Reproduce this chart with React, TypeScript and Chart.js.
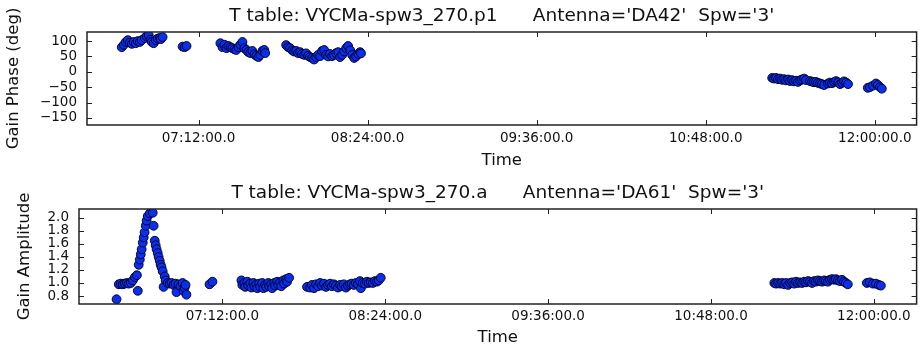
import { useEffect, useRef } from "react";
import { Chart, registerables } from "chart.js";

Chart.register(...registerables);

// Solution times in minutes after midnight, with the solved values.
const phaseTimes = [
  399.3, 400.2, 401.0, 401.9, 402.7, 403.6, 404.4, 405.3, 406.1, 407.0, 407.8, 409.1, 409.9, 410.8, 411.6, 412.1, 412.9, 413.8, 414.6, 415.5, 415.9, 416.7,
  425.2, 426.1, 426.9,
  441.3, 442.2, 443.0, 443.9, 444.7, 445.6, 446.4, 447.3, 448.1, 449.0, 449.8, 450.7, 451.5, 452.4, 453.2, 454.1, 454.9, 455.8, 456.6, 457.5, 458.3, 459.2, 460.0, 460.4,
  469.3, 470.2, 471.0, 471.9, 472.7, 473.6, 474.4, 475.3, 476.1, 477.0, 477.8, 478.7, 479.5, 480.4, 481.2, 482.1, 482.9, 483.8, 484.6, 485.5, 486.3, 487.2, 488.0, 488.9, 489.7, 490.6, 491.5, 492.3, 493.2, 494.0, 494.9, 495.7, 496.6, 497.4, 498.3, 499.1, 500.0, 500.8, 501.2,
  676.3, 677.1, 678.0, 678.8, 679.7, 680.5, 681.4, 682.2, 683.1, 683.9, 684.8, 685.6, 686.5, 687.3, 688.2, 689.0, 689.9, 690.7, 692.4, 693.3, 694.1, 695.0, 695.8, 696.7, 697.5, 698.4, 700.1, 700.9, 701.8, 702.7, 703.5, 704.4, 705.2, 706.1, 706.9, 707.8, 708.6,
  717.0, 717.9, 719.2, 720.5, 721.3, 722.2, 723.0,
];
const phaseValues = [
  80, 88, 97, 103, 95, 91, 97, 93, 100, 97, 103, 110, 116, 119, 104, 97, 93, 103, 108, 110, 106, 113,
  82, 80, 84,
  93, 80, 88, 77, 84, 80, 77, 73, 71, 80, 88, 97, 77, 71, 64, 61, 68, 57, 52, 48, 55, 68, 71, 61,
  87, 80, 77, 70, 66, 68, 61, 64, 58, 55, 60, 52, 48, 45, 40, 48, 55, 51, 68, 71, 55, 50, 58, 51, 55, 61, 64, 48, 55, 66, 77, 84, 70, 55, 45, 50, 58, 64, 60,
  -20, -22, -20, -24, -22, -26, -24, -28, -25, -30, -27, -31, -29, -33, -28, -25, -22, -27, -30, -32, -34, -33, -36, -38, -40, -43, -38, -35, -37, -33, -30, -34, -40, -36, -31, -35, -40,
  -52, -50, -45, -38, -43, -50, -55,
];

const ampTimes = [
  385.2, 386.2, 387.1, 388.0, 388.8, 389.7, 390.6, 391.5, 392.4, 393.3, 394.2, 394.6, 395.0, 395.5, 395.9, 396.3, 396.8, 397.2, 397.6, 398.1,
  398.5, 399.0, 399.9, 401.2, 401.6, 402.1, 402.5, 402.9, 403.4, 403.8, 404.3, 404.7, 405.1, 405.6, 406.0, 406.5, 406.9, 407.8, 408.7, 409.5,
  410.4, 411.3, 411.7, 412.6, 413.5, 414.4, 414.8, 415.3, 415.7, 416.1,
  426.3, 427.6,
  440.4, 440.8, 441.7, 442.1, 443.0, 443.4, 444.3, 444.8, 445.7, 446.1, 447.0, 447.4, 448.3, 448.7, 449.6, 450.1, 450.9, 451.4, 452.3, 452.7, 453.6, 454.0, 454.9, 455.3, 456.2, 456.7, 457.5, 458.0, 458.9, 459.3, 460.2, 460.6, 461.5,
  469.4, 470.8, 471.6, 472.5, 473.4, 474.3, 475.2, 476.0, 476.9, 477.8, 478.7, 479.6, 480.4, 481.3, 482.2, 483.1, 484.0, 484.8, 485.7, 486.6, 487.5, 488.4, 489.2, 490.1, 491.0, 491.9, 492.8, 493.2, 494.0, 495.0, 495.9, 496.7, 497.6, 498.5, 499.4, 500.3, 501.1, 502.0,
  676.0, 676.8, 677.7, 678.6, 679.5, 680.4, 681.2, 682.1, 683.0, 683.9, 684.8, 685.6, 686.5, 687.4, 688.3, 689.2, 690.0, 690.9, 691.8, 692.7, 693.6, 694.4, 695.3, 696.2, 697.1, 698.0, 698.8, 699.7, 700.6, 701.5, 702.4, 703.2, 704.1, 705.0, 705.9, 706.8, 707.6, 708.5,
  716.9, 718.2, 719.6, 720.9, 722.2, 723.1,
];
const ampValues = [
  0.75, 0.98, 0.99, 0.98, 0.99, 1.0, 0.99, 1.0, 1.04, 1.09, 1.12, 0.88, 1.28, 1.36, 1.44, 1.52, 1.62, 1.7, 1.78, 1.88,
  1.96, 2.03, 2.07, 2.08, 1.88, 1.65, 1.58, 1.52, 1.46, 1.4, 1.34, 1.28, 1.24, 1.18, 0.94, 1.1, 1.04, 1.0, 0.99, 1.0,
  0.97, 0.99, 0.86, 0.98, 0.95, 1.0, 0.88, 0.93, 0.97, 0.82,
  0.98, 1.02,
  1.04, 0.97, 1.0, 0.94, 1.02, 0.96, 0.99, 0.93, 1.0, 0.95, 0.98, 0.92, 0.99, 0.94, 1.0, 0.92, 0.97, 0.94, 1.0, 0.95, 0.98, 0.92, 1.0, 0.96, 1.02, 0.97, 1.01, 0.95, 1.04, 0.99, 1.06, 1.02, 1.08,
  0.94, 0.93, 0.97, 0.92, 0.98, 0.95, 1.0, 0.96, 0.99, 0.94, 0.97, 0.99, 0.95, 0.98, 0.96, 0.93, 0.97, 0.95, 0.98, 0.93, 0.96, 0.98, 0.99, 0.97, 1.0, 0.98, 1.03, 0.92, 1.0, 0.99, 1.02, 1.0, 1.01, 1.0, 1.03, 1.02, 1.04, 1.08,
  1.0, 0.99, 1.0, 0.99, 1.0, 0.98, 1.0, 0.97, 1.0, 1.01, 0.99, 1.02, 1.0, 1.01, 1.0, 1.02, 1.01, 1.03, 1.02, 1.0, 1.03, 1.02, 1.04, 1.03, 1.02, 1.04, 1.03, 1.02, 1.05, 1.06, 1.05, 1.06, 1.04, 1.03, 1.05, 1.02, 1.0, 0.98,
  1.0, 1.01, 0.99, 0.99, 0.97, 0.96,
];

// Tick positions (minutes after midnight for time, data units otherwise)
const timeTicks = [432, 504, 576, 648, 720];
const phaseTicks = [-150, -100, -50, 0, 50, 100];
const ampTicks = [0.8, 1.0, 1.2, 1.4, 1.6, 1.8, 2.0];

const phaseTitle = "T table: VYCMa-spw3_270.p1      Antenna='DA42'  Spw='3'";
const ampTitle = "T table: VYCMa-spw3_270.a      Antenna='DA61'  Spw='3'";

const FONT = "'DejaVu Sans', 'Bitstream Vera Sans', sans-serif";
const INK = "#111111";
const POINT_FILL = "rgb(10, 48, 236)";
const POINT_EDGE = "rgba(0, 0, 40, 0.95)";

function formatTime(minutes: number): string {
  const h = Math.floor(minutes / 60);
  const m = Math.round(minutes - h * 60);
  const pad = (n: number) => String(n).padStart(2, "0");
  return `${pad(h)}:${pad(m)}:00.0`;
}

// Axes box plus inward tick marks on all four sides
const framePlugin = {
  id: "frame",
  afterDatasetsDraw(chart: any) {
    const { ctx, chartArea: a, scales } = chart;
    const len = 5;
    ctx.save();
    ctx.strokeStyle = "#222";
    ctx.lineWidth = 1;
    ctx.beginPath();
    for (const t of scales.x.ticks) {
      const px = Math.round(scales.x.getPixelForValue(t.value)) + 0.5;
      ctx.moveTo(px, a.bottom);
      ctx.lineTo(px, a.bottom - len);
      ctx.moveTo(px, a.top);
      ctx.lineTo(px, a.top + len);
    }
    for (const t of scales.y.ticks) {
      const py = Math.round(scales.y.getPixelForValue(t.value)) + 0.5;
      ctx.moveTo(a.left, py);
      ctx.lineTo(a.left + len, py);
      ctx.moveTo(a.right, py);
      ctx.lineTo(a.right - len, py);
    }
    ctx.stroke();
    ctx.lineWidth = 1.5;
    ctx.strokeRect(a.left, a.top, a.right - a.left, a.bottom - a.top);
    ctx.restore();
  },
};

type PanelSpec = {
  title: string;
  times: number[];
  values: number[];
  xMin: number;
  xMax: number;
  yMin: number;
  yMax: number;
  yTicks: number[];
  yLabel: string;
  yFormat: (v: number) => string;
  yWidth: number;
  yTitlePad: number;
  xHeight: number;
  xTickPad: number;
  xTitlePad: number;
  titlePadTop: number;
  titlePadBottom: number;
};

function buildPanel(canvas: HTMLCanvasElement, s: PanelSpec) {
  return new Chart(canvas, {
    type: "scatter",
    data: {
      datasets: [
        {
          data: s.times.map((t, i) => ({ x: t, y: s.values[i] })),
          backgroundColor: POINT_FILL,
          borderColor: POINT_EDGE,
          borderWidth: 1,
          pointRadius: 4.4,
        },
      ],
    },
    options: {
      responsive: false,
      animation: false,
      events: [],
      layout: { padding: { left: 0, right: 2, top: 0, bottom: 0 } },
      plugins: {
        legend: { display: false },
        tooltip: { enabled: false },
        title: {
          display: true,
          fullSize: false,
          text: s.title,
          color: INK,
          font: { family: FONT, size: 18.5, weight: "normal" },
          padding: { top: s.titlePadTop, bottom: s.titlePadBottom },
        },
      },
      scales: {
        x: {
          type: "linear",
          min: s.xMin,
          max: s.xMax,
          grid: { display: false, drawTicks: false },
          border: { display: false },
          afterBuildTicks: (scale: any) => {
            scale.ticks = timeTicks.map((v) => ({ value: v }));
          },
          afterFit: (scale: any) => {
            scale.height = s.xHeight;
          },
          ticks: {
            color: INK,
            font: { family: FONT, size: 13.5 },
            padding: s.xTickPad,
            autoSkip: false,
            maxRotation: 0,
            callback: (v: any) => formatTime(Number(v)),
          },
          title: {
            display: true,
            text: "Time",
            color: INK,
            font: { family: FONT, size: 16.5 },
            padding: { top: 0, bottom: s.xTitlePad },
          },
        },
        y: {
          type: "linear",
          min: s.yMin,
          max: s.yMax,
          grid: { display: false, drawTicks: false },
          border: { display: false },
          afterBuildTicks: (scale: any) => {
            scale.ticks = s.yTicks.map((v) => ({ value: v }));
          },
          afterFit: (scale: any) => {
            scale.width = s.yWidth;
          },
          ticks: {
            color: INK,
            font: { family: FONT, size: 13.5 },
            padding: 10,
            autoSkip: false,
            callback: (v: any) => s.yFormat(Number(v)),
          },
          title: {
            display: true,
            text: s.yLabel,
            color: INK,
            font: { family: FONT, size: 16.5 },
            padding: { top: s.yTitlePad, bottom: 0 },
          },
        },
      },
    },
    plugins: [framePlugin],
  } as any);
}

export default function App() {
  const phaseRef = useRef<HTMLCanvasElement | null>(null);
  const ampRef = useRef<HTMLCanvasElement | null>(null);

  useEffect(() => {
    const charts: Chart[] = [];
    if (phaseRef.current) {
      charts.push(
        buildPanel(phaseRef.current, {
          title: phaseTitle,
          times: phaseTimes,
          values: phaseValues,
          xMin: 384.5,
          xMax: 737.8,
          yMin: -173,
          yMax: 129.5,
          yTicks: phaseTicks,
          yLabel: "Gain Phase (deg)",
          yFormat: (v) => String(v).replace("-", "\u2212"),
          yWidth: 87,
          yTitlePad: 4,
          xHeight: 49,
          xTickPad: 5,
          xTitlePad: 3,
          titlePadTop: 5.4,
          titlePadBottom: 4.4,
        })
      );
    }
    if (ampRef.current) {
      charts.push(
        buildPanel(ampRef.current, {
          title: ampTitle,
          times: ampTimes,
          values: ampValues,
          xMin: 368.6,
          xMax: 738.9,
          yMin: 0.677,
          yMax: 2.138,
          yTicks: ampTicks,
          yLabel: "Gain Amplitude",
          yFormat: (v) => v.toFixed(1),
          yWidth: 79,
          yTitlePad: 14.5,
          xHeight: 44,
          xTickPad: 4.6,
          xTitlePad: 0.6,
          titlePadTop: 8.4,
          titlePadBottom: 4.4,
        })
      );
    }
    return () => charts.forEach((c) => c.destroy());
  }, []);

  return (
    <div
      style={{
        position: "fixed",
        left: 0,
        top: 0,
        width: 922,
        height: 348,
        background: "#ffffff",
        overflow: "hidden",
      }}
    >
      <canvas ref={phaseRef} width={922} height={174} style={{ position: "absolute", left: 0, top: 0 }} />
      <canvas ref={ampRef} width={922} height={174} style={{ position: "absolute", left: 0, top: 174 }} />
    </div>
  );
}
